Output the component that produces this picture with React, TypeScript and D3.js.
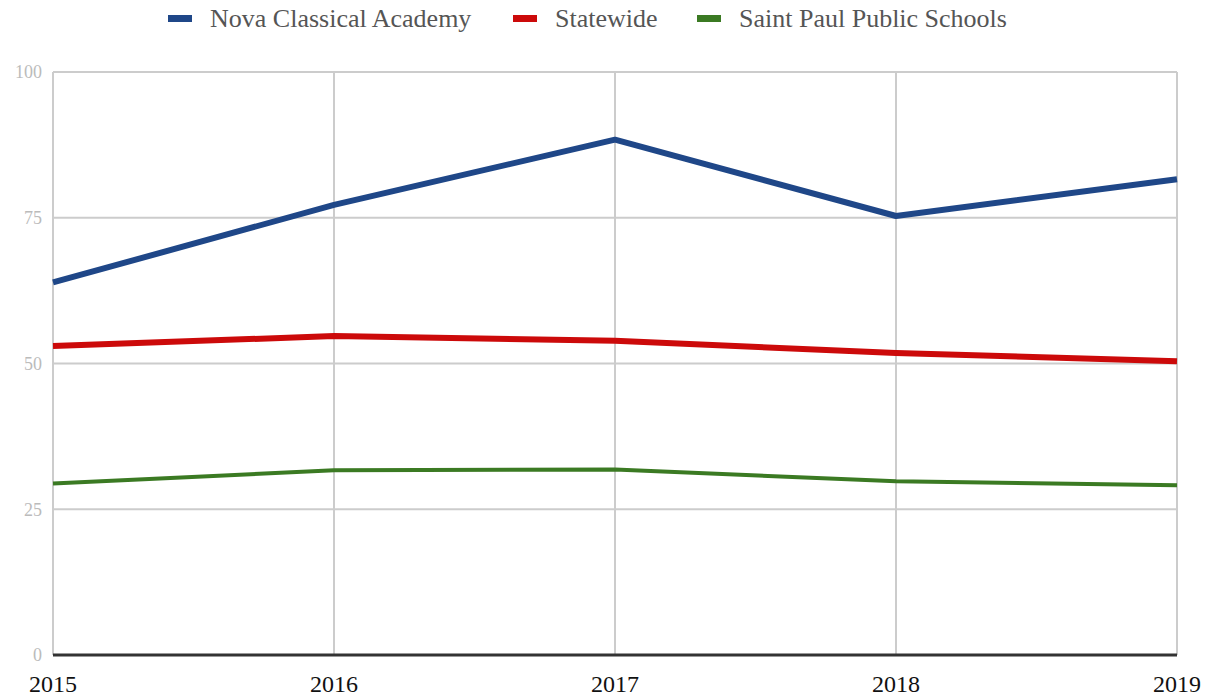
import * as d3 from 'd3';

const years = [2015, 2016, 2017, 2018, 2019];
const nova = [63.9, 77.2, 88.4, 75.3, 81.6];
const statewide = [53.0, 54.7, 53.9, 51.8, 50.4];
const saintPaul = [29.4, 31.7, 31.8, 29.8, 29.1];
const yTicks = [0, 25, 50, 75, 100];

const series = [
    { name: "Nova Classical Academy", values: nova, color: "#1f4788", width: 6 },
    { name: "Statewide", values: statewide, color: "#cc0a0a", width: 6 },
    { name: "Saint Paul Public Schools", values: saintPaul, color: "#3b7a23", width: 4 },
];

const W = 1214;
const H = 698;
const margin = { top: 72, right: 37, bottom: 43, left: 53 };
const serif = "'Liberation Serif', 'DejaVu Serif', serif";

const App = () => {
    const x = d3.scalePoint<number>()
        .domain(years)
        .range([margin.left, W - margin.right]);

    const y = d3.scaleLinear()
        .domain([0, 100])
        .range([H - margin.bottom, margin.top]);

    const line = d3.line<number>()
        .x((_, i) => x(years[i]) as number)
        .y(d => y(d));

    // legend item positions (swatch left edge)
    const legendX = [168, 513, 697];

    return (
        <svg width={W} height={H} style={{ position: "absolute", left: 0, top: 0, background: "#fff" }}>
            {/* horizontal gridlines */}
            {yTicks.map(t => (
                <g key={t}>
                    <line x1={margin.left} x2={W - margin.right} y1={y(t)} y2={y(t)}
                        stroke="#cccccc" strokeWidth={2} />
                    <text x={42} y={y(t)} dy="0.35em" textAnchor="end"
                        fontFamily={serif} fontSize={18} fill="#bbbbbb">{t}</text>
                </g>
            ))}
            {/* vertical gridlines */}
            {years.map(yr => (
                <line key={yr} x1={x(yr)} x2={x(yr)} y1={margin.top} y2={H - margin.bottom}
                    stroke="#cccccc" strokeWidth={2} />
            ))}
            {/* baseline */}
            <line x1={margin.left} x2={W - margin.right} y1={y(0)} y2={y(0)} stroke="#333" strokeWidth={3} />

            {series.map(s => (
                <path key={s.name} d={line(s.values) as string} fill="none"
                    stroke={s.color} strokeWidth={s.width} strokeLinejoin="round" />
            ))}

            {years.map(yr => (
                <text key={yr} x={x(yr)} y={692} textAnchor="middle"
                    fontFamily={serif} fontSize={24} fill="#111">{yr}</text>
            ))}

            {series.map((s, i) => (
                <g key={s.name} transform={`translate(${legendX[i]},18)`}>
                    <rect x={0} y={-3} width={24} height={7} fill={s.color} />
                    <text x={42} y={0} dy="0.35em" fontFamily={serif} fontSize={26} fill="#555">{s.name}</text>
                </g>
            ))}
        </svg>
    );
};

export default App;
